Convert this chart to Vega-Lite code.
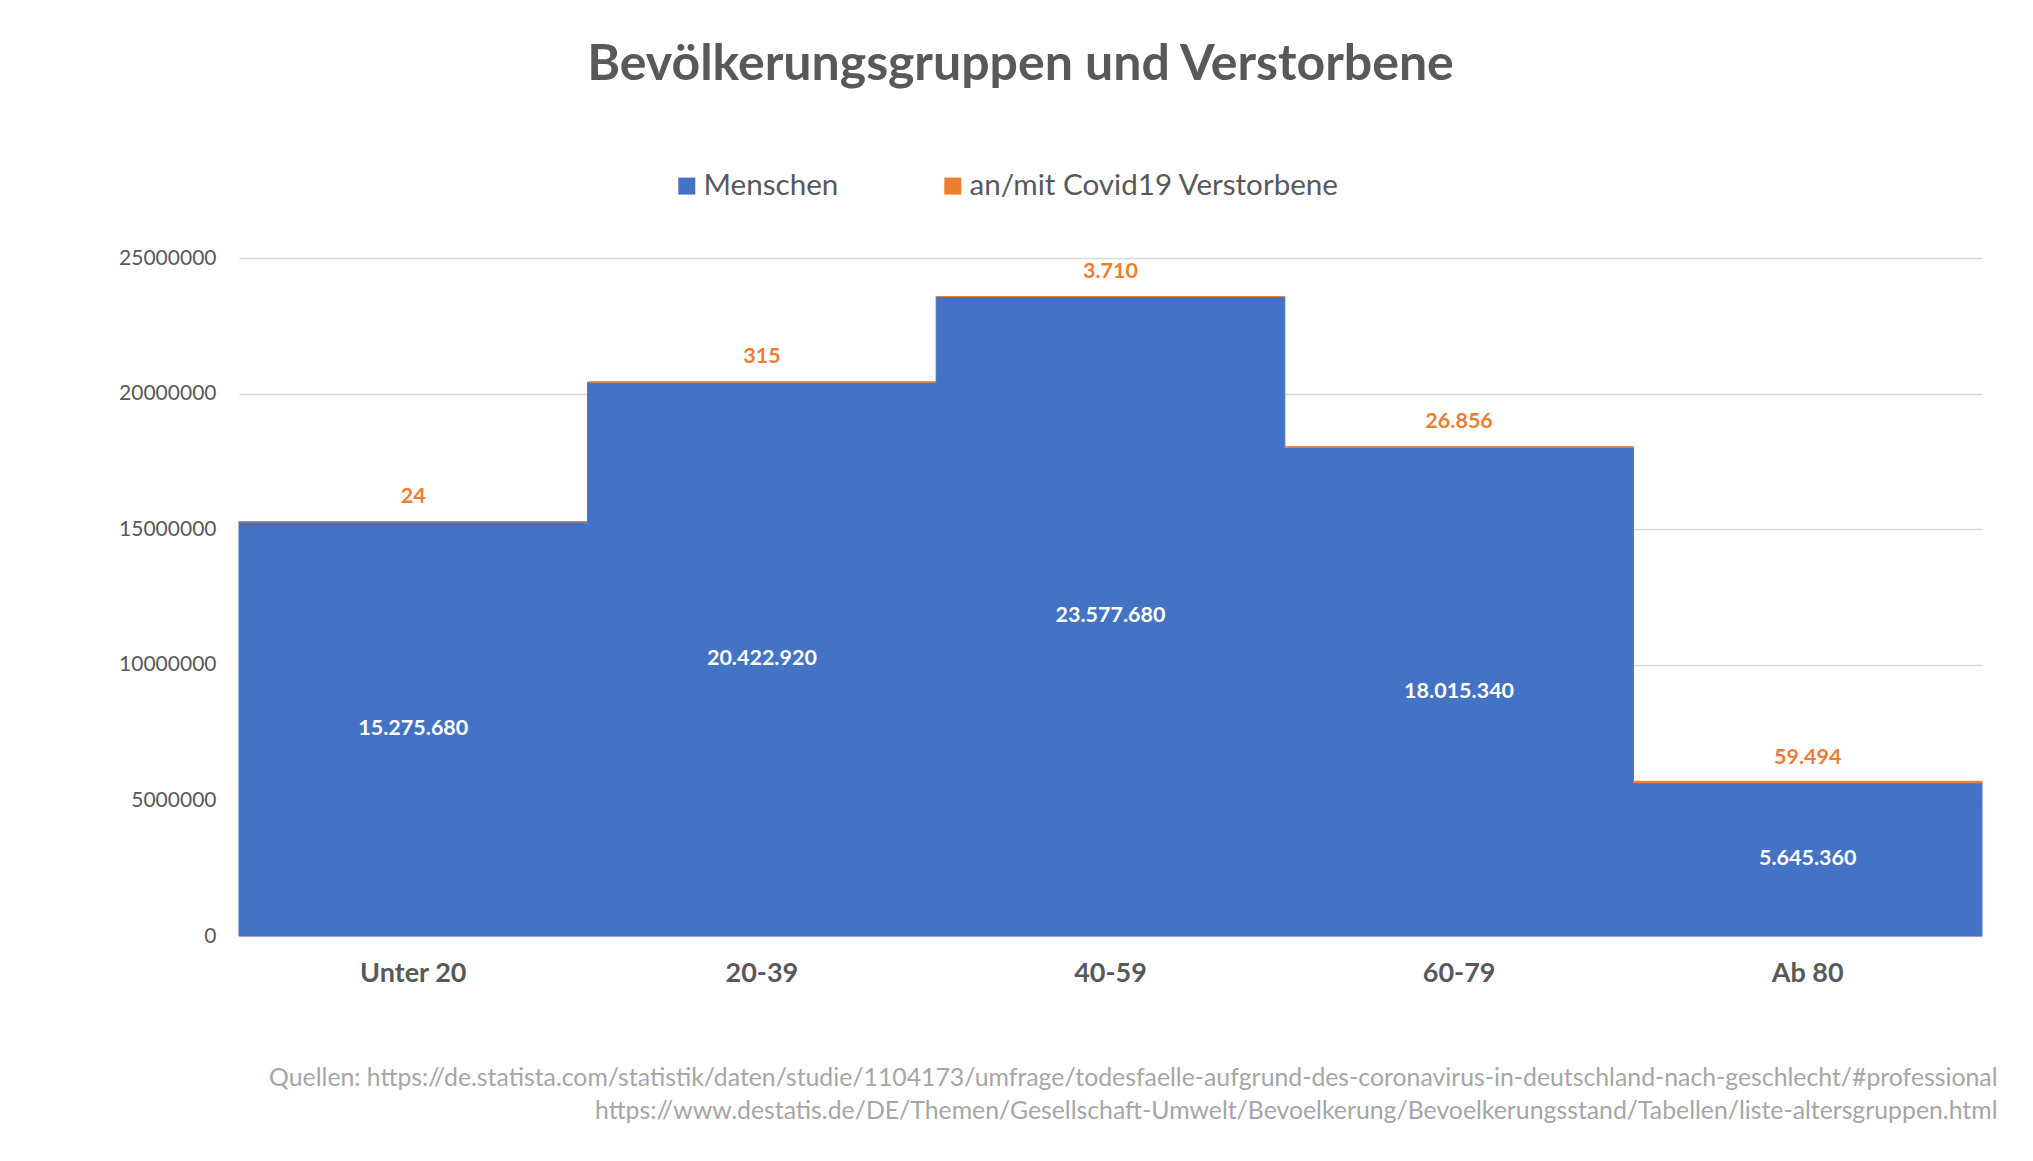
{
  "$schema": "https://vega.github.io/schema/vega-lite/v6.json",
  "width": 1743,
  "height": 678,
  "autosize": {"type": "none"},
  "padding": {"left": 239, "top": 258, "right": 51, "bottom": 225},
  "background": "white",
  "config": {
    "locale": {"number": {"decimal": ",", "thousands": ".", "grouping": [3], "currency": ["", " €"]}},
    "view": {"stroke": null},
    "font": "Lato"
  },
  "title": {
    "text": "Bevölkerungsgruppen und Verstorbene",
    "font": "Lato",
    "fontSize": 50,
    "fontWeight": "bold",
    "color": "#595959",
    "anchor": "middle",
    "frame": "group",
    "dx": -90,
    "offset": 81
  },
  "data": {
    "values": [
      {"Gruppe": "Unter 20", "Menschen": 15275680, "an/mit Covid19 Verstorbene": 24},
      {"Gruppe": "20-39", "Menschen": 20422920, "an/mit Covid19 Verstorbene": 315},
      {"Gruppe": "40-59", "Menschen": 23577680, "an/mit Covid19 Verstorbene": 3710},
      {"Gruppe": "60-79", "Menschen": 18015340, "an/mit Covid19 Verstorbene": 26856},
      {"Gruppe": "Ab 80", "Menschen": 5645360, "an/mit Covid19 Verstorbene": 59494}
    ]
  },
  "layer": [
    {
      "transform": [{"fold": ["Menschen", "an/mit Covid19 Verstorbene"], "as": ["Serie", "Wert"]}],
      "mark": {"type": "bar", "strokeWidth": 1},
      "encoding": {
        "x": {
          "field": "Gruppe",
          "type": "nominal",
          "sort": null,
          "scale": {"paddingInner": 0, "paddingOuter": 0},
          "axis": {
            "labelAngle": 0,
            "labelFont": "Lato",
            "labelFontSize": 27,
            "labelFontWeight": "bold",
            "labelColor": "#595959",
            "labelPadding": 24,
            "domain": false,
            "ticks": false,
            "title": [
              "Quellen: https://de.statista.com/statistik/daten/studie/1104173/umfrage/todesfaelle-aufgrund-des-coronavirus-in-deutschland-nach-geschlecht/#professional",
              "https://www.destatis.de/DE/Themen/Gesellschaft-Umwelt/Bevoelkerung/Bevoelkerungsstand/Tabellen/liste-altersgruppen.html"
            ],
            "titleFont": "Lato",
            "titleFontSize": 24.8,
            "titleFontWeight": "normal",
            "titleColor": "#A6A6A6",
            "titleAnchor": "end",
            "titleAlign": "right",
            "titleBaseline": "top",
            "titleX": 1758,
            "titleY": 129,
            "titleLineHeight": 33,
            "titleLimit": 0
          }
        },
        "y": {
          "field": "Wert",
          "type": "quantitative",
          "stack": "zero",
          "scale": {"domain": [0, 25000000]},
          "axis": {
            "values": [0, 5000000, 10000000, 15000000, 20000000, 25000000],
            "format": "d",
            "labelFont": "Lato",
            "labelFontSize": 21,
            "labelColor": "#595959",
            "labelPadding": 23,
            "domain": false,
            "ticks": false,
            "grid": true,
            "gridColor": "#D9D9D9",
            "gridWidth": 1.5,
            "title": null
          }
        },
        "order": {"field": "Serie", "sort": "ascending"},
        "stroke": {
          "field": "Serie",
          "type": "nominal",
          "scale": {"domain": ["Menschen", "an/mit Covid19 Verstorbene"], "range": ["#4472C4", "#ED7D31"]},
          "legend": null
        },
        "color": {
          "field": "Serie",
          "type": "nominal",
          "scale": {"domain": ["Menschen", "an/mit Covid19 Verstorbene"], "range": ["#4472C4", "#ED7D31"]},
          "legend": {
            "title": null,
            "orient": "none",
            "direction": "horizontal",
            "legendX": 433,
            "legendY": -87,
            "symbolType": "square",
            "symbolSize": 289,
            "symbolStrokeWidth": 0,
            "labelFont": "Lato",
            "labelFontSize": 29.6,
            "labelColor": "#595959",
            "labelOffset": 2,
            "labelLimit": 0,
            "columnPadding": 99,
            "padding": 0
          }
        }
      }
    },
    {
      "mark": {"type": "text", "font": "Lato", "fontSize": 21.5, "fontWeight": "bold", "color": "white", "baseline": "middle"},
      "encoding": {
        "x": {"field": "Gruppe", "type": "nominal", "sort": null},
        "y": {"field": "Menschen", "type": "quantitative", "scale": {"domain": [0, 50000000]}, "axis": null},
        "text": {"field": "Menschen", "type": "quantitative", "format": ",d"}
      }
    },
    {
      "mark": {"type": "text", "font": "Lato", "fontSize": 21.5, "fontWeight": "bold", "color": "#ED7D31", "baseline": "middle", "dy": -25},
      "encoding": {
        "x": {"field": "Gruppe", "type": "nominal", "sort": null},
        "y": {"field": "Menschen", "type": "quantitative", "scale": {"domain": [0, 25000000]}, "axis": null},
        "text": {"field": "an/mit Covid19 Verstorbene", "type": "quantitative", "format": ",d"}
      }
    }
  ],
  "resolve": {"scale": {"y": "independent"}}
}
